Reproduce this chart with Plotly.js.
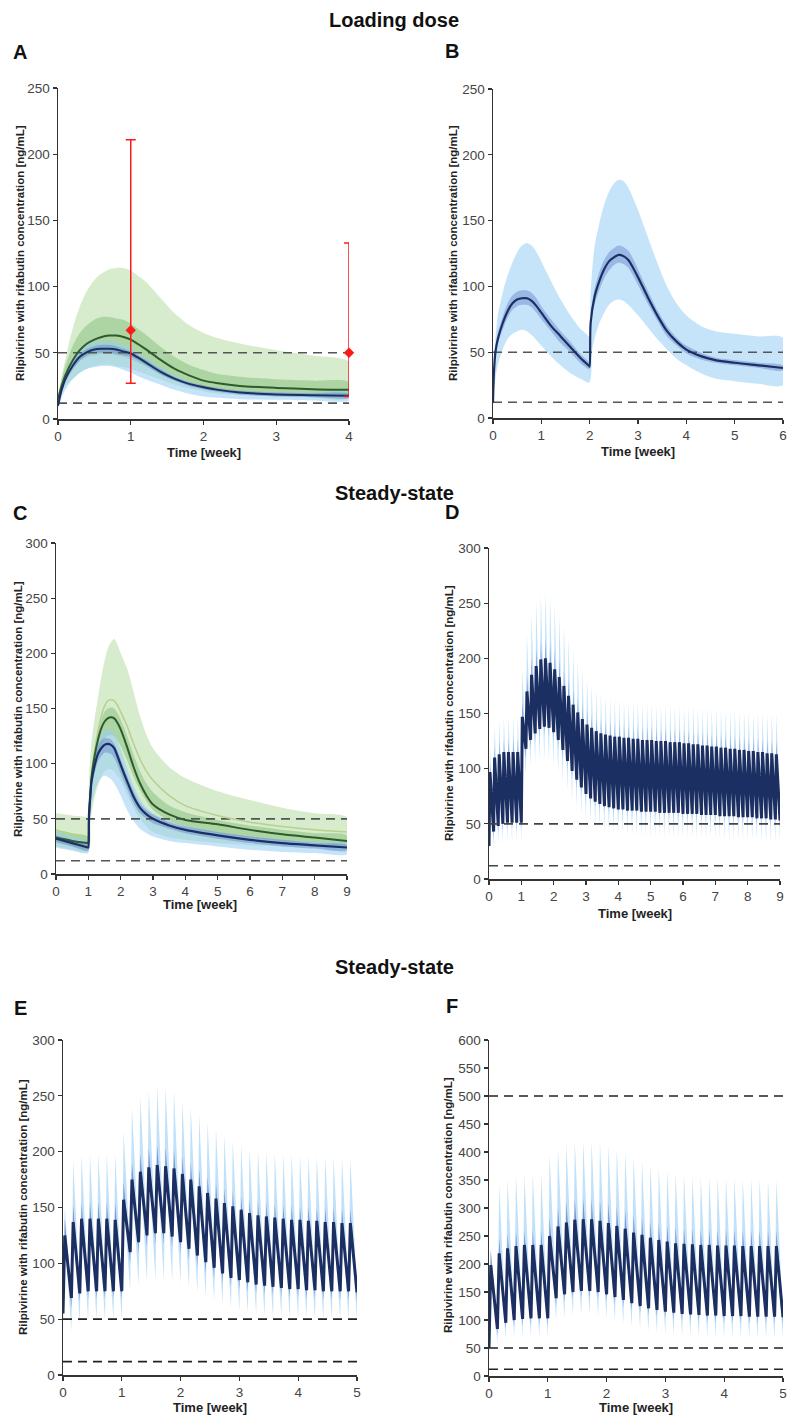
<!DOCTYPE html>
<html><head><meta charset="utf-8">
<script src="https://cdn.plot.ly/plotly-3.0.1.min.js"></script>
<style>body{margin:0;background:#fff}#chart{width:788px;height:1417px}</style>
</head><body><div id="chart"></div>
<script>
// ---------------- DATA ----------------
// Panel A (loading dose, 4 weeks)
const aTime = [0,0.05,0.1,0.2,0.3,0.4,0.5,0.6,0.7,0.8,0.9,1.0,1.2,1.4,1.6,1.8,2.0,2.2,2.5,3.0,3.5,4.0];
const aGreenOuterHi = [18,32,45,68,85,97,105,110,113,114,114,112,104,92,80,71,65,61,57,52,48,43];
const aGreenOuterLo = [12,20,25,30,35,38,40,41,41,40,39,38,34,30,26,23,21,19,18,17,16,16];
const aGreenInnerHi = [17,30,40,55,65,71,75,77,77,76,75,72,64,55,47,41,37,34,32,30,29,28];
const aGreenInnerLo = [14,24,30,38,44,47,48,49,49,48,47,45,40,34,29,26,23,22,20,19,18,18];
const aGreenMed     = [15,25,33,44,52,57,60,62,63,63,62,60,53,45,38,33,29,27,25,23.5,22.5,22];
const aBlueOuterHi  = [14,27,35,46,53,56,58,59,59,58,56,53,46,39,33,28,25,23,21,20,20,20];
const aBlueOuterLo  = [8,16,22,30,35,38,39,40,40,39,37,35,30,26,22,19,17,16,15,14.5,14,14];
const aBlueInnerHi  = [12,24,32,42,49,53,55,56,56,55,53,51,45,38,32,28,25.5,23.5,21.5,20,19.5,19];
const aBlueInnerLo  = [10,20,28,37,44,48,50,50,50,49,48,47,41,34,29,25,22.5,20.5,18.5,17,16.5,16];
const aBlueMed      = [10,22,30,40,47,50.5,52.5,53,53,52.5,51,49.5,43,36,30.5,26.5,24,22,20,18.5,18,17.5];
const aObsTime = [1,4];
const aObsMean = [67,50];
const aObsHigh = [211,133];
const aObsLow  = [27,17];

// Panel B (loading dose, 6 weeks) - second dose at week 2
const bTime = [0,0.02,0.05,0.1,0.2,0.3,0.4,0.5,0.6,0.7,0.8,0.9,1.0,1.2,1.4,1.6,1.8,1.99,2.0,2.02,2.1,2.2,2.3,2.4,2.5,2.6,2.7,2.8,2.9,3.0,3.2,3.4,3.6,3.8,4.0,4.3,4.6,5.0,5.5,6.0];
const bOuterHi = [20,45,60,78,95,108,118,126,131,133,131,126,119,104,90,78,68,61,61,95,130,148,162,172,178,181,180,175,167,158,138,118,100,87,78,70,66,64,62,61];
const bOuterLo = [10,22,30,40,52,60,64,66,67,66,63,59,55,47,40,34,30,27,27,45,60,72,80,86,89,90,89,86,82,78,69,60,52,45,40,34,30,28,26,25];
const bInnerHi = [13,38,54,65,77,87,93,96,97,97,95,91,85,75,66,58,49,42,42,77,98,111,120,126,129,131,130,127,121,113,97,82,70,61,55,49.5,46,44,42,40];
const bInnerLo = [11,32,46,56,67,76,82,85,86,86,84,80,75,66,57,50,42,37,37,67,86,97,106,112,116,118,117,114,108,101,87,74,62,55,49,44.5,42,40,38,36];
const bMed     = [12,35,50,60,72,81,87,90,91,91,89,85,80,70,62,54,46,39.5,39,72,92,104,113,119,122,124,123,120,114,107,92,78,66,58,52,47,44,42,40,38];
const bDoseTimes = [0, 2];

// Panel C (steady-state, 9 weeks) - rifabutin start at week 1
const cTime = [0,0.5,0.99,1.0,1.02,1.05,1.1,1.2,1.3,1.4,1.5,1.6,1.7,1.8,1.9,2.0,2.2,2.4,2.6,2.8,3.0,3.5,4.0,5.0,6.0,7.0,8.0,9.0];
const cGreenOuterHi = [55,53,50,50,85,100,120,142,160,178,193,204,210,213,208,200,186,165,143,126,114,97,87,75,67,60,55,51];
const cGreenOuterLo = [25,22,20,20,30,40,55,70,80,88,93,95,95,93,89,85,72,60,50,43,38,33,31,28,26,25,24,23];
const cGreenUpperLine = [40,36,33,33,55,70,90,113,130,143,152,157,158,157,153,147,134,118,104,93,85,71,62,53,47,43,40,38];
const cGreenInnerHi = [40,37,34,34,60,75,95,115,130,140,147,150,151,150,146,140,125,108,93,82,74,62,56,49,44,40,37,35];
const cGreenInnerLo = [28,25,23,23,45,60,78,95,108,117,122,125,126,125,121,116,103,88,76,66,58,48,43,37,33,30,28,26];
const cGreenMed     = [33,30,28,28,50,65,88,108,122,132,138,141,142,141,137,131,115,97,82,71,63,54,49,45,40,36,33,30];
const cBlueOuterHi  = [38,34,30,30,55,70,90,110,121,127,130,131,130,127,121,113,96,80,68,60,55,48,44,38,34,31,29,27];
const cBlueOuterLo  = [24,21,19,19,35,48,62,75,83,87,89,88,86,82,77,71,58,48,41,37,34,30,28,25,22,20,19,18];
const cBlueInnerHi  = [35,31,27,27,58,72,90,106,116,121,123,123,122,118,112,104,89,75,64,58,54,47,43,38,34,31,28,26];
const cBlueInnerLo  = [29,25,21,21,50,62,78,92,102,107,110,110,109,105,99,91,77,64,55,50,46,41,37,32,28,25,23,21];
const cBlueMed      = [32,28,24,24,54,67,84,99,109,114,117,118,117,114,107,99,84,70,60,54,50,44,40,35,31,28,26,24];
const cDoseTimes = [0, 1];

// Panel D (daily dosing, 63 days): per-day peak and trough values
const dMedStart = 30, dInnerLoStart = 26, dOuterLoStart = 22;
const dMedPeak = [97,110,113,115,115,115,115, 147,170,185,193,199,200,196, 190,183,175,166,158,151,145, 140,137,134,132,131,130,129, 129,128,128,127,127,126,126, 126,125,125,125,124,124,124, 123,123,122,122,121,121,120, 120,119,119,118,118,117,117, 116,116,115,115,114,114,113];
const dMedTrough = [43,48,50,51,51,51,51, 118,126,132,136,138,137,133, 126,117,107,98,90,83,77, 73,70,68,66,65,64,63, 63,62,62,62,61,61,61, 61,60,60,60,60,60,59, 59,59,59,58,58,58,58, 57,57,57,57,56,56,56, 56,55,55,55,54,54,53];
const dInnerHiPeak = [105,120,124,126,127,127,127, 160,184,200,209,215,217,213, 207,199,190,181,172,164,158, 153,149,146,144,143,142,141, 141,140,140,139,139,138,138, 138,137,137,137,136,136,136, 135,135,134,134,133,133,132, 132,131,131,130,130,129,129, 128,128,127,127,126,126,125];
const dInnerLoTrough = [36,41,44,45,45,45,45, 110,118,124,128,130,129,125, 118,109,99,90,82,76,70, 66,64,62,60,59,58,57, 57,56,56,56,55,55,55, 55,54,54,54,54,54,53, 53,53,53,52,52,52,52, 51,51,51,51,50,50,50, 50,49,49,49,48,48,47];
const dOuterHiPeak = [120,140,145,147,148,148,148, 190,222,240,252,258,260,256, 249,240,230,219,208,198,190, 183,177,172,168,166,164,163, 162,162,161,161,160,160,159, 159,158,158,158,157,157,157, 156,156,156,155,155,155,154, 154,154,153,153,153,152,152, 152,151,151,151,150,150,150];
const dOuterLoTrough = [28,32,33,34,34,34,34, 95,102,106,108,108,106,102, 96,88,80,72,65,59,54, 50,47,45,43,42,41,40, 40,39,39,39,38,38,38, 38,38,37,37,37,37,37, 37,37,36,36,36,36,36, 36,36,35,35,35,35,35, 35,35,34,34,34,34,34];

// Panel E (daily dosing, 35 days)
const eMedStart = 55, eInnerLoStart = 50, eOuterLoStart = 42;
const eMedPeak   = [125,137,140,140,140,140,139, 157,175,182,186,188,187,185, 180,175,169,163,158,154,151, 148,145,143,142,141,140,139, 139,138,138,137,137,136,136];
const eMedTrough = [69,73,75,75,75,75,75, 110,119,125,127,127,124,119, 113,107,101,96,91,87,85, 83,81,80,79,78,77,77, 76,76,75,75,75,75,74];
const eInnerHiPeak   = [140,152,154,155,155,155,154, 173,190,198,203,206,204,201, 196,190,184,178,172,167,164, 160,157,155,154,153,152,152, 151,151,150,150,150,149,149];
const eInnerLoTrough = [60,66,68,68,68,68,68, 100,109,115,117,117,114,109, 103,97,91,86,82,79,77, 75,73,72,71,70,69,69, 68,68,67,67,67,67,66];
const eOuterHiPeak   = [150,192,197,198,198,198,198, 218,239,249,255,259,258,254, 246,240,233,227,221,215,210, 206,203,201,200,199,198,198, 197,197,196,196,195,195,194];
const eOuterLoTrough = [39,46,48,49,49,49,49, 76,80,83,85,85,84,82, 78,74,70,66,63,60,57, 55,54,53,52,52,51,51, 51,50,50,50,50,49,49];

// Panel F (daily dosing, 35 days)
const fMedStart = 50, fInnerLoStart = 45, fOuterLoStart = 40;
const fMedPeak   = [198,219,228,232,234,234,234, 250,267,274,279,280,280,277, 273,268,263,256,252,247,243, 240,237,236,235,234,234,233, 233,233,232,232,232,232,232];
const fMedTrough = [84,95,100,102,103,103,103, 139,146,150,152,152,150,146, 141,136,130,125,121,118,115, 113,111,110,109,108,108,107, 107,107,106,106,106,106,105];
const fInnerHiPeak   = [225,247,255,258,260,260,260, 282,300,310,315,317,316,313, 308,302,295,288,282,277,272, 269,266,264,263,262,262,261, 261,261,260,260,260,260,260];
const fInnerLoTrough = [72,83,88,90,91,91,91, 125,133,137,139,139,137,133, 128,123,117,112,108,105,102, 100,98,97,96,95,95,94, 94,94,93,93,93,93,92];
const fOuterHiPeak   = [225,340,352,358,360,361,361, 395,408,415,419,421,420,416, 412,406,399,392,385,378,372, 368,363,360,357,356,355,354, 353,353,352,352,351,351,350];
const fOuterLoTrough = [58,66,69,70,70,70,70, 100,104,107,108,108,106,103, 98,93,88,84,80,77,75, 73,72,71,70,70,69,69, 69,68,68,68,67,67,67];

// Reference thresholds (ng/mL)
const thresholds = [50, 12];
const fThresholds = [500, 50, 12];

// ---------------- STYLE ----------------
const W = 788, H = 1417;
const FONT = 'Liberation Sans, Arial, Helvetica, sans-serif';
const PEAK_LAG = 0.03; // weeks between dose and peak
const GREEN_OUT = 'rgba(165,212,145,0.45)';
const GREEN_IN  = 'rgba(105,175,95,0.38)';
const GREEN_LINE = '#2e5a2c';
const BLUE_OUT  = 'rgba(150,205,245,0.55)';
const BLUE_IN   = 'rgba(95,125,200,0.42)';
const NAVY = '#1b2f62';
const OSC_OUT = 'rgba(150,205,245,0.6)';
const OSC_IN  = 'rgba(95,120,195,0.72)';

const traces = [];
function ax(i){ return i === 1 ? '' : String(i); }
// split a curve into dose segments so that smoothing never crosses a dose jump
function segments(x, doses){
  const segs = [];
  for (let s = 0; s < doses.length; s++){
    const lo = doses[s], hi = s + 1 < doses.length ? doses[s+1] : Infinity;
    const idx = [];
    x.forEach((v, k) => { if (v >= lo && v < hi) idx.push(k); });
    segs.push(idx);
  }
  return segs;
}
function addBand(i, x, hi, lo, color, shape, doses){
  const segs = doses ? segments(x, doses) : [x.map((v,k)=>k)];
  segs.forEach((idx, s) => {
    // include the last point before the next dose so segments join
    const xs = idx.map(k => x[k]), u = idx.map(k => hi[k]), l = idx.map(k => lo[k]);
    traces.push({type:'scatter', mode:'lines', xaxis:'x'+ax(i), yaxis:'y'+ax(i),
      x: xs.concat(xs.slice().reverse()), y: u.concat(l.slice().reverse()),
      fill:'toself', fillcolor:color, line:{width:0, color:color, shape:shape||'linear', smoothing:0.8}, hoverinfo:'skip', showlegend:false});
  });
}
function addLine(i, x, y, color, width, dash, shape, doses){
  const segs = doses ? segments(x, doses) : [x.map((v,k)=>k)];
  segs.forEach((idx, s) => {
    const ix = idx.slice();
    if (s > 0) ix.unshift(ix[0] - 1); // connect the vertical jump at dose time
    traces.push({type:'scatter', mode:'lines', xaxis:'x'+ax(i), yaxis:'y'+ax(i), x:ix.map(k=>x[k]), y:ix.map(k=>y[k]),
      line:{color:color, width:width, dash:dash||'solid', shape:shape||'linear', smoothing:0.8}, hoverinfo:'skip', showlegend:false});
  });
}
function addThresholds(i, xmax, vals, color){
  vals.forEach(v => addLine(i, [0, xmax], [v, v], color, 1.6, '9px,6px'));
}
function zig(start, peaks, troughs){
  const x = [0], y = [start];
  for (let d = 0; d < peaks.length; d++){
    x.push(d/7 + PEAK_LAG); y.push(peaks[d]);
    x.push((d+1)/7); y.push(troughs[d]);
  }
  return {x, y};
}
function oscPanel(i, medStart, medPeak, medTrough, innerHi, innerLoStart, innerLo, outerHi, outerLoStart, outerLo, lw){
  const outU = zig(medStart, outerHi, medTrough), outL = zig(outerLoStart, medPeak, outerLo);
  addBand(i, outU.x, outU.y, outL.y, OSC_OUT);
  const inU = zig(medStart, innerHi, medTrough), inL = zig(innerLoStart, medPeak, innerLo);
  addBand(i, inU.x, inU.y, inL.y, OSC_IN);
  const m = zig(medStart, medPeak, medTrough);
  addLine(i, m.x, m.y, NAVY, lw);
}

// Panel A
addBand(1, aTime, aGreenOuterHi, aGreenOuterLo, GREEN_OUT, 'spline');
addBand(1, aTime, aGreenInnerHi, aGreenInnerLo, GREEN_IN, 'spline');
addBand(1, aTime, aBlueOuterHi, aBlueOuterLo, BLUE_OUT, 'spline');
addBand(1, aTime, aBlueInnerHi, aBlueInnerLo, BLUE_IN, 'spline');
addThresholds(1, 4, thresholds, '#555');
addLine(1, aTime, aGreenMed, GREEN_LINE, 2, 'solid', 'spline');
addLine(1, aTime, aBlueMed, NAVY, 2, 'solid', 'spline');
traces.push({type:'scatter', mode:'markers', xaxis:'x', yaxis:'y', x:aObsTime, y:aObsMean,
  marker:{color:'#ff1a1a', size:8, symbol:'diamond'}, cliponaxis:false,
  error_y:{type:'data', symmetric:false, array:aObsHigh.map((h,k)=>h-aObsMean[k]),
    arrayminus:aObsMean.map((m,k)=>m-aObsLow[k]), color:'#ff1a1a', thickness:1.5, width:5},
  hoverinfo:'skip', showlegend:false});

// Panel B
addBand(2, bTime, bOuterHi, bOuterLo, BLUE_OUT, 'spline', bDoseTimes);
addBand(2, bTime, bInnerHi, bInnerLo, BLUE_IN, 'spline', bDoseTimes);
addThresholds(2, 6, thresholds, '#555');
addLine(2, bTime, bMed, NAVY, 2.2, 'solid', 'spline', bDoseTimes);

// Panel C
addBand(3, cTime, cGreenOuterHi, cGreenOuterLo, GREEN_OUT, 'spline', cDoseTimes);
addBand(3, cTime, cGreenInnerHi, cGreenInnerLo, GREEN_IN, 'spline', cDoseTimes);
addBand(3, cTime, cBlueOuterHi, cBlueOuterLo, BLUE_OUT, 'spline', cDoseTimes);
addBand(3, cTime, cBlueInnerHi, cBlueInnerLo, BLUE_IN, 'spline', cDoseTimes);
addThresholds(3, 9, thresholds, '#555');
addLine(3, cTime, cGreenUpperLine, '#b9cf8c', 1.5, 'solid', 'spline', cDoseTimes);
addLine(3, cTime, cGreenMed, GREEN_LINE, 2, 'solid', 'spline', cDoseTimes);
addLine(3, cTime, cBlueMed, NAVY, 2.2, 'solid', 'spline', cDoseTimes);

// Panel D
oscPanel(4, dMedStart, dMedPeak, dMedTrough, dInnerHiPeak, dInnerLoStart, dInnerLoTrough, dOuterHiPeak, dOuterLoStart, dOuterLoTrough, 3);
addThresholds(4, 9, thresholds, '#444');
// Panel E
oscPanel(5, eMedStart, eMedPeak, eMedTrough, eInnerHiPeak, eInnerLoStart, eInnerLoTrough, eOuterHiPeak, eOuterLoStart, eOuterLoTrough, 3);
addThresholds(5, 5, thresholds, '#222');
// Panel F
oscPanel(6, fMedStart, fMedPeak, fMedTrough, fInnerHiPeak, fInnerLoStart, fInnerLoTrough, fOuterHiPeak, fOuterLoStart, fOuterLoTrough, 3);
addThresholds(6, 5, fThresholds, '#222');

// ---------------- LAYOUT ----------------
function xAxis(l, r, range, anchor){
  return {domain:[l/W, r/W], range:range, dtick:1, tick0:0, anchor:anchor, showgrid:false, zeroline:false,
    showline:true, linecolor:'#333', linewidth:1.5, ticks:'outside', ticklen:4, tickcolor:'#333', tickwidth:1.2,
    tickfont:{family:FONT, size:13.5, color:'#444'}, fixedrange:true};
}
function yAxis(top, bottom, range, dtick, anchor){
  return {domain:[1-bottom/H, 1-top/H], range:range, dtick:dtick, tick0:0, anchor:anchor, showgrid:false, zeroline:false,
    showline:true, linecolor:'#333', linewidth:1.5, ticks:'outside', ticklen:4, tickcolor:'#333', tickwidth:1.2,
    tickfont:{family:FONT, size:13.5, color:'#444'}, fixedrange:true};
}
function ann(text, x, y, size, angle, color){
  return {text:'<b>'+text+'</b>', xref:'paper', yref:'paper', x:x/W, y:1-y/H, xanchor:'center', yanchor:'middle',
    showarrow:false, textangle:angle||0, font:{family:FONT, size:size, color:color||'#111'}};
}
const YT = 'Rilpivirine with rifabutin concentration [ng/mL]';
const XT = 'Time [week]';
const layout = {
  width:W, height:H, margin:{l:0,r:0,t:0,b:0}, paper_bgcolor:'#fff', plot_bgcolor:'rgba(0,0,0,0)', showlegend:false,
  xaxis:  xAxis(58, 349, [0,4], 'y'),
  yaxis:  yAxis(88, 419, [0,250], 50, 'x'),
  xaxis2: xAxis(493, 783, [0,6], 'y2'),
  yaxis2: yAxis(89, 418, [0,250], 50, 'x2'),
  xaxis3: xAxis(56, 347, [0,9], 'y3'),
  yaxis3: yAxis(543, 874, [0,300], 50, 'x3'),
  xaxis4: xAxis(489, 780, [0,9], 'y4'),
  yaxis4: yAxis(548, 879, [0,300], 50, 'x4'),
  xaxis5: xAxis(63, 357, [0,5], 'y5'),
  yaxis5: yAxis(1040, 1375, [0,300], 50, 'x5'),
  xaxis6: xAxis(489, 783, [0,5], 'y6'),
  yaxis6: yAxis(1040, 1376, [0,600], 50, 'x6'),
  annotations: [
    ann('Loading dose', 394, 20, 20),
    ann('Steady-state', 394, 493, 20),
    ann('Steady-state', 394, 967, 20),
    ann('A', 20, 52, 20), ann('B', 452, 51, 20),
    ann('C', 20, 513, 20), ann('D', 452, 512, 20),
    ann('E', 20, 1008, 20), ann('F', 452, 1006, 20),
    ann(YT, 20, 253, 11.5, -90, '#222'), ann(YT, 453, 253, 11.5, -90, '#222'),
    ann(YT, 18, 709, 11.5, -90, '#222'), ann(YT, 449, 713, 11.5, -90, '#222'),
    ann(YT, 23, 1207, 11.5, -90, '#222'), ann(YT, 448, 1205, 11.5, -90, '#222'),
    ann(XT, 204, 453, 13, 0, '#222'), ann(XT, 638, 451, 13, 0, '#222'),
    ann(XT, 200, 904, 13, 0, '#222'), ann(XT, 635, 913, 13, 0, '#222'),
    ann(XT, 210, 1407, 13, 0, '#222'), ann(XT, 636, 1407, 13, 0, '#222')
  ]
};
Plotly.newPlot('chart', traces, layout, {staticPlot:true, displayModeBar:false});
</script>
</body></html>
